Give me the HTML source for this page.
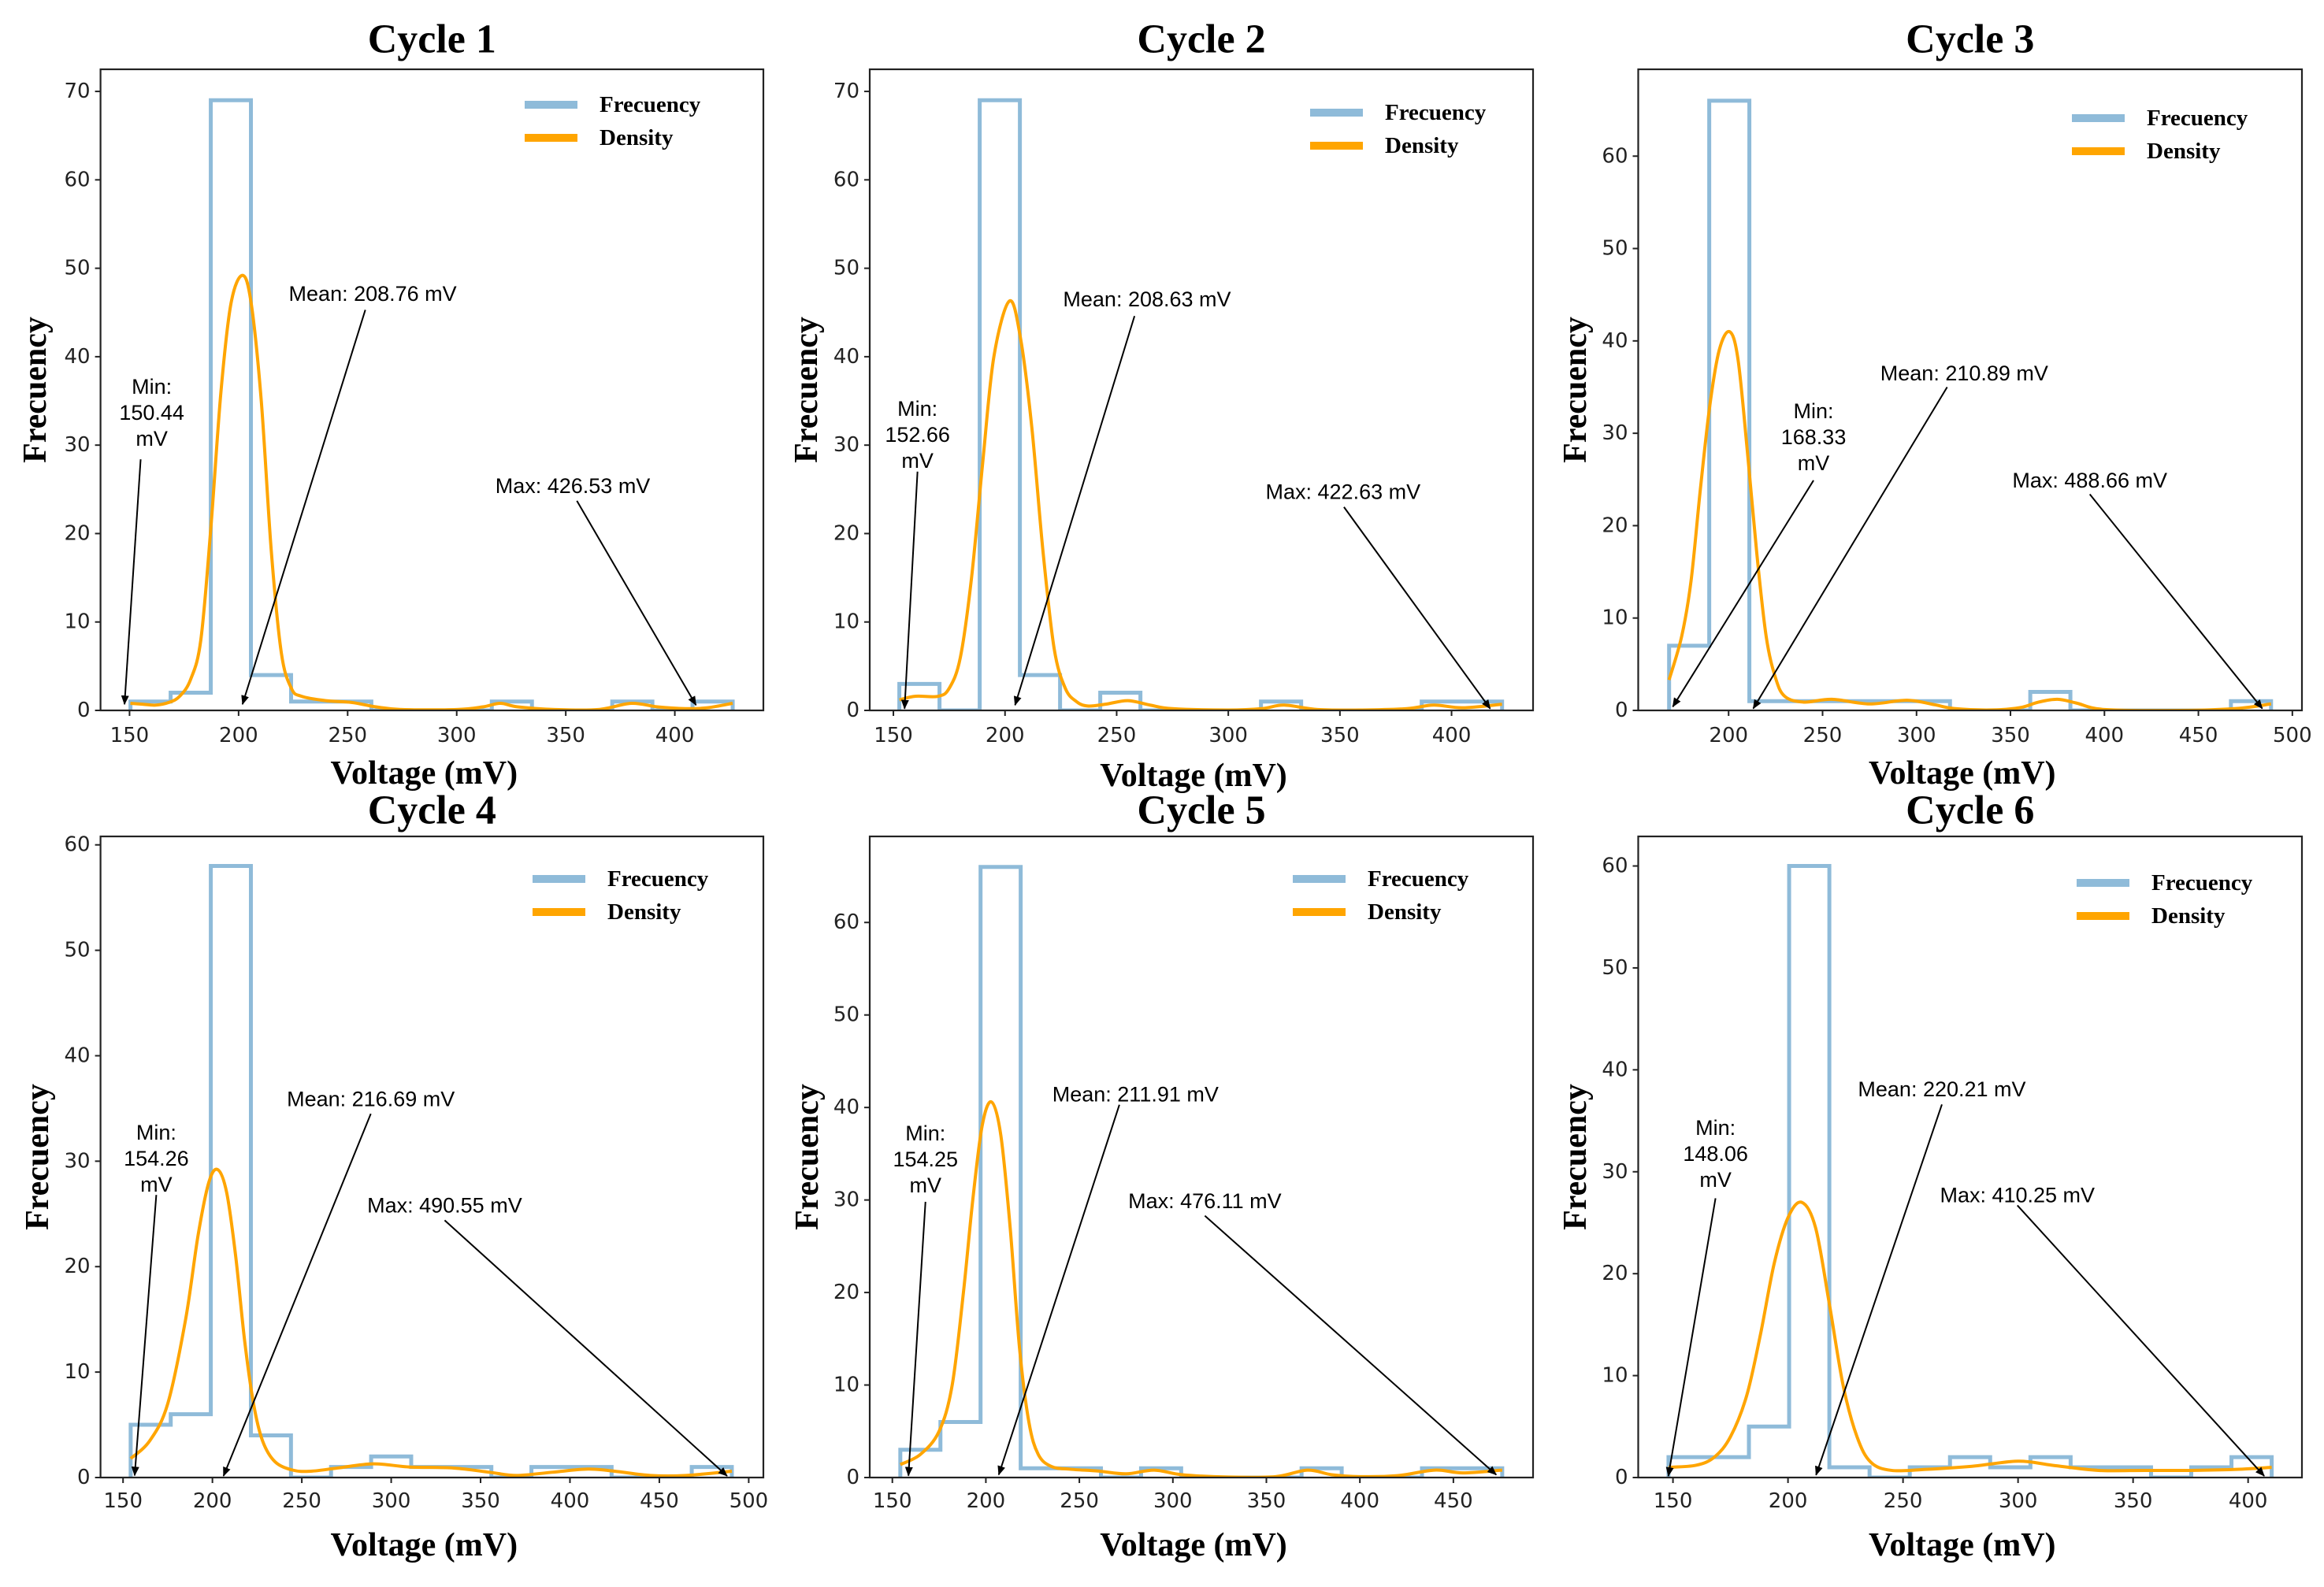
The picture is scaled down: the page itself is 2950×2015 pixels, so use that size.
<!DOCTYPE html>
<html><head><meta charset="utf-8"><title>Voltage histograms by cycle</title>
<style>
html,body{margin:0;padding:0;background:#fff;}
svg{display:block;}
.tick{font-family:"DejaVu Sans","Liberation Sans",sans-serif;font-size:26px;fill:#222;}
.ann{font-family:"Liberation Sans",sans-serif;font-size:27px;fill:#000;}
.title{font-family:"Liberation Serif",serif;font-weight:bold;font-size:52px;fill:#000;}
.axlab{font-family:"Liberation Serif",serif;font-weight:bold;font-size:42px;fill:#000;}
.leg{font-family:"Liberation Serif",serif;font-weight:bold;font-size:29px;fill:#000;}
</style></head>
<body>
<svg id="fig" width="2950" height="2015" viewBox="0 0 2950 2015" xmlns="http://www.w3.org/2000/svg">
<defs>
<marker id="ah" markerWidth="12" markerHeight="10" refX="11" refY="5" orient="auto" markerUnits="userSpaceOnUse">
<path d="M0,0 L12,5 L0,10 z" fill="#000"/>
</marker>
</defs>
</svg>
<script>
// ---------- data ----------
const c1Counts=[1,2,69,4,1,1,0,0,0,1,0,0,1,0,1];
const c1Min=150.44, c1Max=426.53, c1Mean=208.76;
const c1DensX=[150.4,156,162,168,173,178,182.7,187.3,191.9,196.5,201.8,205.8,210.4,215,219.6,224.2,228.8,240,251.8,263,275,300,312,320,328,345,365,380,392,405,415,426.5];
const c1DensY=[0.8,0.7,0.6,0.9,1.6,3.5,8,20.7,36,46,49.2,46,35,18,6.5,2.5,1.6,1.1,0.9,0.4,0.1,0.1,0.4,0.8,0.4,0.1,0.1,0.8,0.4,0.2,0.3,0.8];
const c1XTicks=[150,200,250,300,350,400];
const c1YTicks=[0,10,20,30,40,50,60,70];

const c2Counts=[3,0,69,4,0,2,0,0,0,1,0,0,0,1,1];
const c2Min=152.66, c2Max=422.63, c2Mean=208.63;
const c2DensX=[152.7,160,170,175,180,185,190,195,202,207,212,217,222,227,232,237,245,255,265,275,300,315,325,340,360,380,392,405,422.6];
const c2DensY=[1.2,1.6,1.6,2.5,6,15,28,40,46.3,42,32,18,7,2.5,1,0.5,0.7,1.1,0.6,0.2,0.05,0.2,0.6,0.1,0.05,0.2,0.6,0.3,0.7];
const c2XTicks=[150,200,250,300,350,400];
const c2YTicks=[0,10,20,30,40,50,60,70];

const c3Counts=[7,66,1,1,1,1,1,0,0,2,0,0,0,0,1];
const c3Min=168.33, c3Max=488.66, c3Mean=210.89;
const c3DensX=[168.3,175,180,185,190,195,200.5,205,210,215,220,225,230,240,255,275,295,310,320,340,355,365,375,385,400,440,470,488.7];
const c3DensY=[3.3,8,14,24,33,39,41,38,28,17,8,3.5,1.5,0.9,1.2,0.7,1.1,0.6,0.2,0.05,0.3,0.9,1.2,0.8,0.1,0.0,0.2,0.7];
const c3XTicks=[200,250,300,350,400,450,500];
const c3YTicks=[0,10,20,30,40,50,60];

const c4Counts=[5,6,58,4,0,1,2,1,1,0,1,1,0,0,1];
const c4Min=154.26, c4Max=490.55, c4Mean=216.69;
const c4DensX=[154.3,165,175,185,192,198,203,208,213,218,223,228,235,245,255,270,290,310,335,355,370,390,410,425,445,465,490.6];
const c4DensY=[1.8,3.5,7,15,23,28,29.2,27,21,13,7,3.5,1.5,0.7,0.6,0.9,1.3,1.0,0.9,0.5,0.2,0.5,0.8,0.6,0.2,0.2,0.6];
const c4XTicks=[150,200,250,300,350,400,450,500];
const c4YTicks=[0,10,20,30,40,50,60];

const c5Counts=[3,6,66,1,1,0,1,0,0,0,1,0,0,1,1];
const c5Min=154.25, c5Max=476.11, c5Mean=211.91;
const c5DensX=[154.25,165,175,182,188,193,198,203,208,213,218,223,228,235,245,260,275,290,305,330,355,372,385,400,420,440,455,476.1];
const c5DensY=[1.4,2.5,5,10,20,30,38,40.6,37,27,14,6,2.5,1.2,0.9,0.7,0.4,0.8,0.3,0.05,0.1,0.8,0.3,0.1,0.2,0.8,0.5,0.8];
const c5XTicks=[150,200,250,300,350,400,450];
const c5YTicks=[0,10,20,30,40,50,60];

const c6Counts=[2,2,5,60,1,0,1,2,1,2,1,1,0,1,2];
const c6Min=148.06, c6Max=410.25, c6Mean=220.21;
const c6DensX=[148.06,160,168,175,182,188,194,200,206,212,218,224,230,236,245,260,280,300,315,335,355,375,395,410.25];
const c6DensY=[1.0,1.2,2,4,8,14,21,25.5,27,24.5,17,9,4,1.5,0.7,0.8,1.1,1.6,1.2,0.7,0.7,0.7,0.8,1.0];
const c6XTicks=[150,200,250,300,350,400];
const c6YTicks=[0,10,20,30,40,50,60];

// annotation anchor points in data coords: [textX, textY(top line), startX, startY, tipX, tipY]
const c1MinAnn=[160.2,36.6,155.1,28.4,147.7,0.7], c1MeanAnn=[261.5,47.1,258.1,45.3,201.8,0.7], c1MaxAnn=[353.2,25.4,355.1,23.7,409.7,0.6];
const c2MinAnn=[160.8,34.1,160.8,27.0,155.0,0.2], c2MeanAnn=[263.6,46.5,258.0,44.6,204.5,0.6], c2MaxAnn=[351.4,24.7,351.8,23.0,417.3,0.2];
const c3MinAnn=[245.2,32.4,245.2,24.9,170.3,0.4], c3MeanAnn=[325.4,36.5,316.3,35.0,213.1,0.2], c3MaxAnn=[392.2,24.9,392.2,23.4,484.0,0.2];
const c4MinAnn=[168.6,32.7,168.6,26.8,156.5,0.2], c4MeanAnn=[288.6,35.9,288.6,34.5,206.2,0.15], c4MaxAnn=[329.9,25.8,329.9,24.4,487.9,0.15];
const c5MinAnn=[167.7,37.2,167.7,29.8,158.6,0.2], c5MeanAnn=[280.0,41.4,271.4,40.3,206.9,0.3], c5MaxAnn=[317.1,29.9,317.1,28.3,472.9,0.3];
const c6MinAnn=[168.5,34.3,168.5,27.4,148.0,0.15], c6MeanAnn=[266.9,38.1,266.9,36.6,212.2,0.25], c6MaxAnn=[299.7,27.7,299.7,26.7,407.0,0.15];

// ---------- layout ----------
const panels=[
 {id:1,counts:c1Counts,min:c1Min,max:c1Max,mean:c1Mean,dx:c1DensX,dy:c1DensY,xt:c1XTicks,yt:c1YTicks,mA:c1MinAnn,meA:c1MeanAnn,maA:c1MaxAnn,
  box:{l:127.6,r:969,t:88,b:902},xd:[136.7,440.6],yd:[0,72.5],titleY:50,xlabY:982,ylabX:45,legR:303,legT:45,tkOff:32},
 {id:2,counts:c2Counts,min:c2Min,max:c2Max,mean:c2Mean,dx:c2DensX,dy:c2DensY,xt:c2XTicks,yt:c2YTicks,mA:c2MinAnn,meA:c2MeanAnn,maA:c2MaxAnn,
  box:{l:1104,r:1946,t:88,b:902},xd:[139.4,436.5],yd:[0,72.5],titleY:50,xlabY:985,ylabX:1024,legR:283,legT:55,tkOff:32},
 {id:3,counts:c3Counts,min:c3Min,max:c3Max,mean:c3Mean,dx:c3DensX,dy:c3DensY,xt:c3XTicks,yt:c3YTicks,mA:c3MinAnn,meA:c3MeanAnn,maA:c3MaxAnn,
  box:{l:2079.5,r:2922,t:88,b:902},xd:[151.9,505.1],yd:[0,69.4],titleY:50,xlabY:982,ylabX:2000,legR:292,legT:62,tkOff:32},
 {id:4,counts:c4Counts,min:c4Min,max:c4Max,mean:c4Mean,dx:c4DensX,dy:c4DensY,xt:c4XTicks,yt:c4YTicks,mA:c4MinAnn,meA:c4MeanAnn,maA:c4MaxAnn,
  box:{l:127.6,r:969,t:1062,b:1876},xd:[137.4,508.2],yd:[0,60.8],titleY:1029,xlabY:1962,ylabX:48,legR:293,legT:54,tkOff:30},
 {id:5,counts:c5Counts,min:c5Min,max:c5Max,mean:c5Mean,dx:c5DensX,dy:c5DensY,xt:c5XTicks,yt:c5YTicks,mA:c5MinAnn,meA:c5MeanAnn,maA:c5MaxAnn,
  box:{l:1104,r:1946,t:1062,b:1876},xd:[137.9,492.6],yd:[0,69.3],titleY:1029,xlabY:1962,ylabX:1025,legR:305,legT:54,tkOff:30},
 {id:6,counts:c6Counts,min:c6Min,max:c6Max,mean:c6Mean,dx:c6DensX,dy:c6DensY,xt:c6XTicks,yt:c6YTicks,mA:c6MinAnn,meA:c6MeanAnn,maA:c6MaxAnn,
  box:{l:2079.5,r:2922,t:1062,b:1876},xd:[134.9,423.4],yd:[0,62.9],titleY:1029,xlabY:1962,ylabX:2000,legR:286,legT:59,tkOff:30}
];

const NS="http://www.w3.org/2000/svg";
const fig=document.getElementById('fig');
function mk(tag,attrs,parent){const e=document.createElementNS(NS,tag);for(const k in attrs)e.setAttribute(k,attrs[k]);(parent||fig).appendChild(e);return e;}
function fmt(v){return v.toFixed(2);}

panels.forEach(p=>{
  const b=p.box;
  const X=v=>b.l+(v-p.xd[0])/(p.xd[1]-p.xd[0])*(b.r-b.l);
  const Y=v=>b.b-(v-p.yd[0])/(p.yd[1]-p.yd[0])*(b.b-b.t);
  const g=mk('g',{});
  
  
  const cid='clip'+p.id;
  const cp=mk('clipPath',{id:cid},g);
  mk('rect',{x:b.l,y:b.t,width:b.r-b.l,height:b.b-b.t},cp);

  // histogram step
  const n=p.counts.length, w=(p.max-p.min)/n;
  let d='M'+X(p.min)+','+Y(0);
  for(let i=0;i<n;i++){const x0=X(p.min+i*w),x1=X(p.min+(i+1)*w),y=Y(p.counts[i]);d+=' L'+x0+','+y+' L'+x1+','+y;}
  d+=' L'+X(p.max)+','+Y(0);
  const hist=mk('path',{d:d,fill:'none',stroke:'#8fbbd9','stroke-width':5,'stroke-linejoin':'miter','clip-path':'url(#'+cid+')'},g);
  
  

  // density (Catmull-Rom)
  const pts=p.dx.map((x,i)=>[X(x),Y(p.dy[i])]);
  let dd='M'+pts[0][0]+','+pts[0][1];
  for(let i=0;i<pts.length-1;i++){
    const p0=pts[Math.max(0,i-1)],p1=pts[i],p2=pts[i+1],p3=pts[Math.min(pts.length-1,i+2)];
    const c1=[p1[0]+(p2[0]-p0[0])/6,p1[1]+(p2[1]-p0[1])/6];
    const c2=[p2[0]-(p3[0]-p1[0])/6,p2[1]-(p3[1]-p1[1])/6];
    dd+=' C'+c1[0]+','+c1[1]+' '+c2[0]+','+c2[1]+' '+p2[0]+','+p2[1];
  }
  const dens=mk('path',{d:dd,fill:'none',stroke:'#ffa500','stroke-width':4,'clip-path':'url(#'+cid+')'},g);
  
  

  // frame
  const fr=mk('rect',{x:b.l,y:b.t,width:b.r-b.l,height:b.b-b.t,fill:'none',stroke:'#222','stroke-width':2.2},g);
  
  

  // ticks
  p.xt.forEach(v=>{
    const x=X(v);
    mk('line',{x1:x,y1:b.b,x2:x,y2:b.b+7,stroke:'#222','stroke-width':2},g);
    const t=mk('text',{x:x,y:b.b+p.tkOff,'text-anchor':'middle','dominant-baseline':'central',class:'tick'},g);
    t.textContent=v;
    
    
  });
  p.yt.forEach(v=>{
    const y=Y(v);
    mk('line',{x1:b.l-7,y1:y,x2:b.l,y2:y,stroke:'#222','stroke-width':2},g);
    const t=mk('text',{x:b.l-13,y:y,'text-anchor':'end','dominant-baseline':'central',class:'tick'},g);
    t.textContent=v;
    
    
  });

  // titles / labels
  const cx=(b.l+b.r)/2;
  const ti=mk('text',{x:cx,y:p.titleY,'text-anchor':'middle','dominant-baseline':'central',class:'title'},g);
  ti.textContent='Cycle '+p.id;
  
  
  const xl=mk('text',{x:cx-10,y:p.xlabY,'text-anchor':'middle','dominant-baseline':'central',class:'axlab'},g);
  xl.textContent='Voltage (mV)';
  
  
  const ym=(b.t+b.b)/2;
  const yl=mk('text',{x:p.ylabX,y:ym,'text-anchor':'middle','dominant-baseline':'central',class:'axlab',transform:'rotate(-90 '+p.ylabX+' '+ym+')'},g);
  yl.textContent='Frecuency';
  
  

  // legend
  const lx=b.r-p.legR, ly1=b.t+p.legT, ly2=ly1+42;
  const lg=mk('g',{},g);
  
  
  mk('line',{x1:lx,y1:ly1,x2:lx+67,y2:ly1,stroke:'#8fbbd9','stroke-width':10},lg);
  mk('line',{x1:lx,y1:ly2,x2:lx+67,y2:ly2,stroke:'#ffa500','stroke-width':10},lg);
  const t1=mk('text',{x:lx+95,y:ly1,'dominant-baseline':'central',class:'leg'},lg);
  t1.textContent='Frecuency';
  
  
  const t2=mk('text',{x:lx+95,y:ly2,'dominant-baseline':'central',class:'leg'},lg);
  t2.textContent='Density';
  
  

  // annotations
  function ann(a,lines,name){
    const ag=mk('g',{},g);
    
    
    lines.forEach((s,i)=>{
      const t=mk('text',{x:X(a[0]),y:Y(a[1])+i*33,'text-anchor':'middle','dominant-baseline':'central',class:'ann'},ag);
      t.textContent=s;
    });
    mk('line',{x1:X(a[2]),y1:Y(a[3]),x2:X(a[4]),y2:Y(a[5]),stroke:'#000','stroke-width':2,'marker-end':'url(#ah)'},ag);
  }
  ann(p.mA,['Min:',fmt(p.min),'mV'],'cycle-'+p.id+'-min-annotation');
  ann(p.meA,['Mean: '+fmt(p.mean)+' mV'],'cycle-'+p.id+'-mean-annotation');
  ann(p.maA,['Max: '+fmt(p.max)+' mV'],'cycle-'+p.id+'-max-annotation');
});
</script>
</body></html>
